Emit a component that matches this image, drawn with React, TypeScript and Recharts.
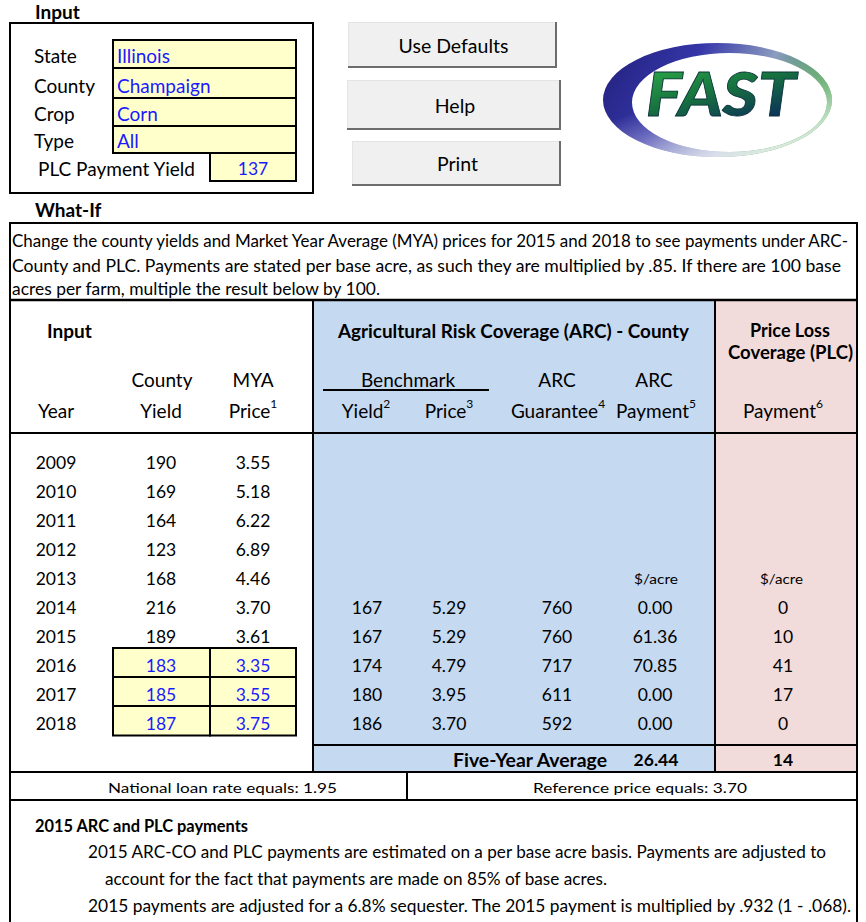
import React from 'react';
import { ScatterChart, Scatter, XAxis, YAxis } from 'recharts';

// ---------- data ----------
const years = [2009, 2010, 2011, 2012, 2013, 2014, 2015, 2016, 2017, 2018];
const countyYield = [190, 169, 164, 123, 168, 216, 189, 183, 185, 187];
const myaPrice = [3.55, 5.18, 6.22, 6.89, 4.46, 3.7, 3.61, 3.35, 3.55, 3.75];
const benchYield = [null, null, null, null, null, 167, 167, 174, 180, 186];
const benchPrice = [null, null, null, null, null, 5.29, 5.29, 4.79, 3.95, 3.7];
const arcGuarantee = [null, null, null, null, null, 760, 760, 717, 611, 592];
const arcPayment = [null, null, null, null, null, 0, 61.36, 70.85, 0, 0];
const plcPayment = [null, null, null, null, null, 0, 10, 41, 17, 0];
const editableYears = [2016, 2017, 2018];

const inputLabels = ['State', 'County', 'Crop', 'Type'];
const inputValues = ['Illinois', 'Champaign', 'Corn', 'All'];
const plcPaymentYield = 137;
const fiveYearArc = 26.44;
const fiveYearPlc = 14;
const loanRate = 1.95;
const referencePrice = 3.7;
const buttons = ['Use Defaults', 'Help', 'Print'];

const FONT = "Lato, 'Noto Sans', 'DejaVu Sans', sans-serif";
const BLUE = '#1a1aff';
const YELLOW = '#ffffcc';
const ARC_BG = '#c5d9f1';
const PLC_BG = '#f2dcdb';
const HS = 19; // header / label text size

type Col = { key: string; values: (number | null)[]; cx: number; dec: number; left?: number; right?: number };
const columns: Col[] = [
  { key: 'year', values: years, cx: 56, dec: 0 },
  { key: 'countyYield', values: countyYield, cx: 161, dec: 0, left: 113, right: 210 },
  { key: 'myaPrice', values: myaPrice, cx: 253, dec: 2, left: 210, right: 296 },
  { key: 'benchYield', values: benchYield, cx: 367, dec: 0 },
  { key: 'benchPrice', values: benchPrice, cx: 449, dec: 2 },
  { key: 'arcGuarantee', values: arcGuarantee, cx: 557, dec: 0 },
  { key: 'arcPayment', values: arcPayment, cx: 655, dec: 2 },
  { key: 'plcPayment', values: plcPayment, cx: 783, dec: 0 },
];

const seriesData = columns.map((c) =>
  years
    .map((yr, i) => ({
      year: yr,
      x: c.cx,
      label: c.values[i] == null ? null : (c.values[i] as number).toFixed(c.dec),
      editable: c.left != null && editableYears.includes(yr),
    }))
    .filter((d) => d.label != null)
);

const makeShape = (c: Col) => (props: any) => {
  const { cx, cy, payload } = props;
  return (
    <g>
      {payload.editable && (
        <rect x={c.left} y={cy - 17} width={(c.right as number) - (c.left as number)} height={29.5} fill={YELLOW} stroke="#000" strokeWidth={2} />
      )}
      <text x={cx} y={cy} textAnchor="middle" dominantBaseline="central" fontFamily={FONT} fontSize={17.5} fill={payload.editable ? BLUE : '#000'}>
        {payload.label}
      </text>
    </g>
  );
};

const T = ({ x, y, children, anchor = 'start', size = HS, bold = false, fill = '#000', len, ls }: any) => (
  <text
    x={x}
    y={y}
    textAnchor={anchor}
    dominantBaseline="central"
    fontFamily={FONT}
    fontSize={size}
    fontWeight={bold ? 700 : 400}
    fill={fill}
    letterSpacing={ls}
    {...(len ? { textLength: len, lengthAdjust: 'spacingAndGlyphs' } : {})}
  >
    {children}
  </text>
);

const Sup = ({ children }: any) => (
  <tspan fontSize={12} dy={-7}>{children}</tspan>
);

const L = ({ x1, y1, x2, y2, w = 2 }: any) => <line x1={x1} y1={y1} x2={x2} y2={y2} stroke="#000" strokeWidth={w} />;

const Button = ({ x, y, w, h, label }: any) => (
  <g>
    <rect x={x} y={y} width={w} height={h} fill="#f0f0f0" />
    <line x1={x} y1={y + 0.5} x2={x + w} y2={y + 0.5} stroke="#e4e4e4" />
    <line x1={x + 0.5} y1={y} x2={x + 0.5} y2={y + h} stroke="#e4e4e4" />
    <line x1={x} y1={y + h - 1} x2={x + w} y2={y + h - 1} stroke="#6d6d6d" strokeWidth={2} />
    <line x1={x + w - 1} y1={y} x2={x + w - 1} y2={y + h} stroke="#6d6d6d" strokeWidth={2} />
    <T x={x + w / 2 + 1} y={y + h / 2} anchor="middle" size={19.5}>{label}</T>
  </g>
);

const inputRows = [
  { y0: 40, y1: 68, ty: 55 },
  { y0: 68, y1: 98, ty: 85 },
  { y0: 98, y1: 126, ty: 113 },
  { y0: 126, y1: 153, ty: 140 },
];

const buttonBoxes = [
  { x: 348, y: 22, w: 209, h: 46 },
  { x: 347, y: 80, w: 214, h: 50 },
  { x: 352, y: 141, w: 209, h: 45 },
];

const RING =
  'M603,100 a114.5,57 0 1,0 229,0 a114.5,57 0 1,0 -229,0 Z M632,102.5 a97.5,49.5 0 1,0 195,0 a97.5,49.5 0 1,0 -195,0 Z';

export default function App() {
  return (
    <div style={{ position: 'absolute', left: 0, top: 0, width: 866, height: 922, background: '#fff', overflow: 'hidden' }}>
      <svg width={866} height={922} style={{ position: 'absolute', left: 0, top: 0 }}>
        <defs>
          <linearGradient id="ring" x1="0" y1="0" x2="1" y2="0.3">
            <stop offset="0" stopColor="#20207a" />
            <stop offset="0.4" stopColor="#3535a8" />
            <stop offset="0.72" stopColor="#8c9cc0" />
            <stop offset="1" stopColor="#1f8a2a" />
          </linearGradient>
          <linearGradient id="fade" x1="0.35" y1="0.45" x2="0.75" y2="1">
            <stop offset="0" stopColor="#fff" stopOpacity={0} />
            <stop offset="1" stopColor="#fff" stopOpacity={0.9} />
          </linearGradient>
          <linearGradient id="fast" x1="0" y1="0" x2="0.6" y2="1">
            <stop offset="0" stopColor="#2fb54a" />
            <stop offset="0.55" stopColor="#17723f" />
            <stop offset="1" stopColor="#0b2f5a" />
          </linearGradient>
        </defs>

        {/* Input section */}
        <T x={35} y={11} bold size={19}>Input</T>
        <rect x={10} y={23} width={303} height={170} fill="none" stroke="#000" strokeWidth={2} />
        {inputRows.map((r, i) => (
          <g key={i}>
            <rect x={113} y={r.y0} width={183} height={r.y1 - r.y0} fill={YELLOW} stroke="#000" strokeWidth={2} />
            <T x={34} y={r.ty}>{inputLabels[i]}</T>
            <T x={117} y={r.ty} fill={BLUE}>{inputValues[i]}</T>
          </g>
        ))}
        <rect x={210} y={153} width={86} height={28} fill={YELLOW} stroke="#000" strokeWidth={2} />
        <T x={38} y={168} len={157}>PLC Payment Yield</T>
        <T x={253} y={168} anchor="middle" size={17.5} fill={BLUE}>{plcPaymentYield}</T>

        {/* Buttons */}
        {buttons.map((b, i) => (
          <Button key={b} {...buttonBoxes[i]} label={b} />
        ))}

        {/* Logo */}
        <path d={RING} fill="url(#ring)" fillRule="evenodd" />
        <path d={RING} fill="url(#fade)" fillRule="evenodd" />
        <text x={646} y={116} fontFamily={FONT} fontSize={60} fontWeight={900} fontStyle="italic" fill="url(#fast)" stroke="#0b2f3a" strokeWidth={0.8} textLength={150} lengthAdjust="spacingAndGlyphs">
          FAST
        </text>

        {/* What-If */}
        <T x={35} y={209} bold>What-If</T>
        <rect x={313} y={300} width={402} height={472} fill={ARC_BG} />
        <rect x={715} y={300} width={142} height={472} fill={PLC_BG} />

        <L x1={9} y1={223} x2={858} y2={223} />
        <L x1={10} y1={222} x2={10} y2={922} />
        <L x1={857} y1={222} x2={857} y2={922} />
        <L x1={9} y1={300} x2={858} y2={300} w={2.5} />
        <L x1={9} y1={433} x2={858} y2={433} />
        <L x1={313} y1={300} x2={313} y2={772} />
        <L x1={715} y1={300} x2={715} y2={772} />
        <L x1={313} y1={745} x2={857} y2={745} />
        <L x1={9} y1={772} x2={858} y2={772} />
        <L x1={9} y1={800} x2={858} y2={800} />
        <L x1={407} y1={772} x2={407} y2={800} />
        <L x1={323} y1={390} x2={489} y2={390} />

        <T x={12} y={241} size={16.5} len={836}>Change the county yields and Market Year Average (MYA) prices for 2015 and 2018 to see payments under ARC-</T>
        <T x={12} y={266} size={16.5} len={829}>County and PLC.  Payments are stated per base acre, as such they are multiplied by .85. If there are 100 base</T>
        <T x={12} y={289} size={16.5} len={368}>acres per farm, multiple the result below by 100.</T>

        {/* Headers */}
        <T x={47} y={330} bold>Input</T>
        <T x={338} y={330} bold len={351}>Agricultural Risk Coverage (ARC) - County</T>
        <T x={790} y={330} anchor="middle" bold size={18}>Price Loss</T>
        <T x={790.5} y={351} anchor="middle" bold len={125}>Coverage (PLC)</T>

        <T x={162} y={379} anchor="middle">County</T>
        <T x={253} y={379} anchor="middle">MYA</T>
        <T x={408} y={379} anchor="middle">Benchmark</T>
        <T x={557} y={379} anchor="middle">ARC</T>
        <T x={654} y={379} anchor="middle">ARC</T>

        <T x={56} y={410} anchor="middle">Year</T>
        <T x={161} y={410} anchor="middle">Yield</T>
        <T x={253} y={410} anchor="middle">Price<Sup>1</Sup></T>
        <T x={366} y={410} anchor="middle">Yield<Sup>2</Sup></T>
        <T x={449} y={410} anchor="middle">Price<Sup>3</Sup></T>
        <T x={558} y={410} anchor="middle">Guarantee<Sup>4</Sup></T>
        <T x={656} y={410} anchor="middle">Payment<Sup>5</Sup></T>
        <T x={783} y={410} anchor="middle">Payment<Sup>6</Sup></T>

        <T x={656} y={579} anchor="middle" size={13.5} len={44}>$/acre</T>
        <T x={781.5} y={579} anchor="middle" size={13.5} len={43}>$/acre</T>

        <T x={453} y={759} bold len={154}>Five-Year Average</T>
        <T x={656} y={759} anchor="middle" bold size={17.5}>{fiveYearArc.toFixed(2)}</T>
        <T x={783} y={759} anchor="middle" bold size={17.5}>{fiveYearPlc}</T>

        <T x={222.5} y={787} anchor="middle" size={14} len={229}>{`National loan rate equals: ${loanRate.toFixed(2)}`}</T>
        <T x={640} y={787} anchor="middle" size={14} len={214}>{`Reference price equals: ${referencePrice.toFixed(2)}`}</T>

        <T x={35} y={826} bold size={16.5} len={213}>2015 ARC and PLC payments</T>
        <T x={88} y={852} size={16.5} len={738}>2015 ARC-CO and PLC payments are estimated on a per base acre basis.  Payments are adjusted to</T>
        <T x={105} y={879} size={16.5} len={502}>account for the fact that payments are made on 85% of base acres.</T>
        <T x={88} y={906} size={16.5} len={763}>2015 payments are adjusted for a 6.8% sequester.  The 2015 payment is multiplied by .932 (1 - .068).</T>
      </svg>

      <div style={{ position: 'absolute', left: 0, top: 0 }}>
        <ScatterChart width={866} height={922} margin={{ top: 447.5, bottom: 184.5, left: 0, right: 0 }}>
          <XAxis type="number" dataKey="x" domain={[0, 866]} hide />
          <YAxis type="number" dataKey="year" domain={[2008.5, 2018.5]} reversed hide />
          {columns.map((c, i) => (
            <Scatter key={c.key} name={c.key} data={seriesData[i]} shape={makeShape(c)} isAnimationActive={false} />
          ))}
        </ScatterChart>
      </div>
    </div>
  );
}
